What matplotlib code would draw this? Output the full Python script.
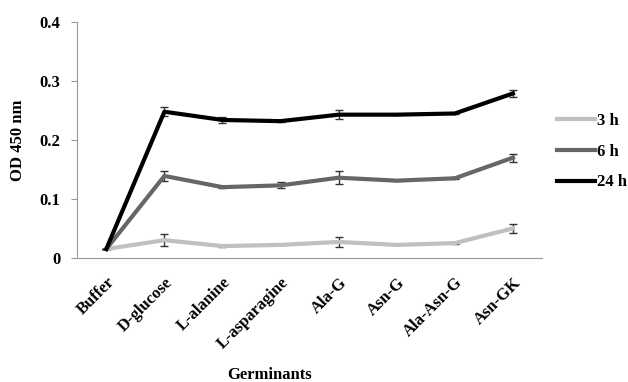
import matplotlib.pyplot as plt

categories = ["Buffer", "D-glucose", "L-alanine", "L-asparagine",
              "Ala-G", "Asn-G", "Ala-Asn-G", "Asn-GK"]
labels = ["3 h", "6 h", "24 h"]
od_3h = [0.015, 0.030, 0.020, 0.022, 0.027, 0.022, 0.025, 0.050]
od_6h = [0.015, 0.139, 0.120, 0.123, 0.136, 0.131, 0.135, 0.170]
od_24h = [0.015, 0.248, 0.234, 0.232, 0.243, 0.243, 0.245, 0.279]
err_3h = [0, 0.010, 0.001, 0.001, 0.008, 0.001, 0.001, 0.007]
err_6h = [0, 0.008, 0.002, 0.005, 0.011, 0.001, 0.002, 0.007]
err_24h = [0, 0.008, 0.005, 0.002, 0.008, 0.001, 0.001, 0.006]
colors = ["#c0c0c0", "#666666", "#000000"]

plt.rcParams['font.family'] = ['Liberation Serif']
plt.rcParams['font.weight'] = 'bold'

fig = plt.figure(figsize=(6.28, 3.82), dpi=100)
ax = fig.add_axes([0.123, 0.325, 0.74, 0.617])

x = list(range(len(categories)))
for vals, errs, c, lab in zip([od_3h, od_6h, od_24h], [err_3h, err_6h, err_24h], colors, labels):
    ax.errorbar(x, vals, yerr=errs, color=c, lw=3, ecolor="#333333",
                elinewidth=1, capsize=3, capthick=1, label=lab)

ax.set_xlim(-0.5, len(categories) - 0.5)
ax.set_ylim(0, 0.4)
ax.set_yticks([0, 0.1, 0.2, 0.3, 0.4])
ax.set_yticklabels(["0", "0.1", "0.2", "0.3", "0.4"], fontsize=12, fontweight='bold')
ax.set_xticks(x)
ax.set_xticklabels(categories, rotation=45, ha='right', rotation_mode='anchor',
                   fontsize=12, fontweight='bold')
ax.tick_params(axis='x', length=0, pad=12)
ax.tick_params(axis='y', length=4, color="#999999", pad=8)
for s in ["top", "right"]:
    ax.spines[s].set_visible(False)
for s in ["left", "bottom"]:
    ax.spines[s].set_color("#999999")

ax.set_ylabel("OD 450 nm", fontsize=12, fontweight='bold', labelpad=10)
fig.text(0.43, 0.008, "Germinants", ha='center', va='baseline',
         fontsize=12, fontweight='bold')

handles, labs = ax.get_legend_handles_labels()
handles = [h[0] for h in handles]
ax.legend(handles, labs, loc='center left', bbox_to_anchor=(1.0, 0.45),
          frameon=False, handlelength=2.3, handletextpad=0.1,
          labelspacing=0.88, prop={'weight': 'bold', 'size': 12})

plt.savefig("out.png")
